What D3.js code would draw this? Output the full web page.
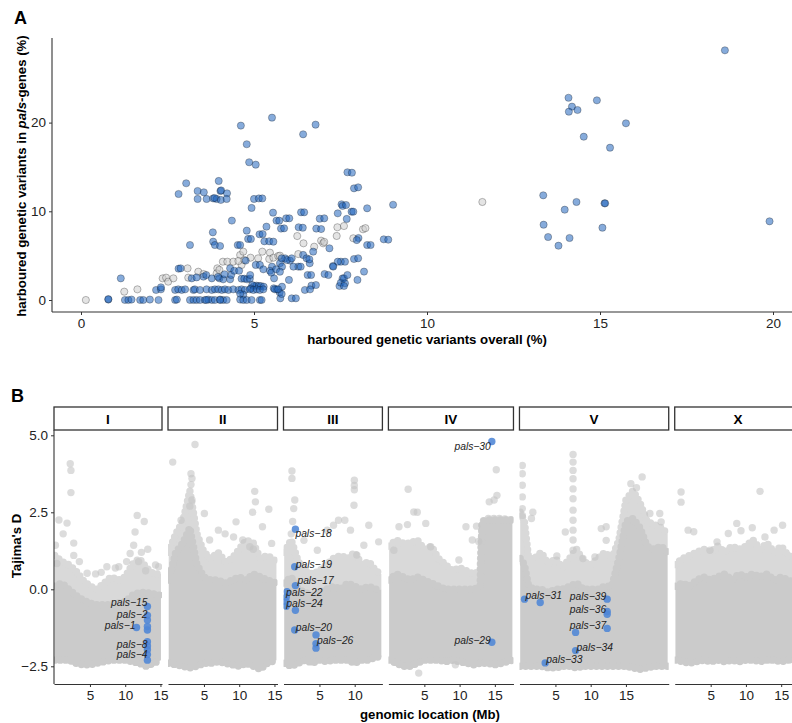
<!DOCTYPE html>
<html>
<head>
<meta charset="utf-8">
<script src="https://cdn.jsdelivr.net/npm/d3@7"></script>
<style>
body { margin: 0; background: #fff; }
text { font-family: "Liberation Sans", Arial, sans-serif; }
</style>
</head>
<body>
<svg id="chart" width="792" height="723"></svg>
<script>
// ---------- panel A data: % variants overall vs % variants in pals genes ----------
const strainsBlue = [
  [4.62,19.66],[5.52,20.56],[6.78,19.77],[6.42,18.68],[4.79,17.56],[4.86,15.53],[5.05,15.26],[7.70,14.4],[7.89,12.59],
  [3.04,13.16],[2.82,11.95],[3.37,12.29],[3.55,12.14],[3.98,13.42],[4.03,12.29],[4.05,12.35],[4.22,12.03],
  [3.37,11.39],[3.63,11.39],[3.82,11.45],[3.92,11.39],[4.04,11.28],[4.21,11.39],[3.86,11.5],
  [5.0,11.39],[5.14,11.45],[5.24,11.45],[4.93,10.38],[4.36,8.95],
  [5.55,9.85],[5.65,8.95],[5.93,9.21],[6.36,9.89],[6.9,9.17],[9.02,10.74],[8.27,10.34],[7.53,10.79],[7.56,10.6],
  [7.42,9.77],[7.82,9.96],[7.68,9.14],[5.78,8.05],[5.36,8.27],[4.79,7.82],[6.8,8.05],[6.29,8.2],[5.16,7.41],
  [4.83,6.88],[3.81,7.63],[5.3,6.62],[5.44,6.62],[5.56,6.58],[8.75,6.84],[8.27,6.2],[8.37,6.2],[8.02,6.99],[7.97,6.76],
  [7.18,5.83],[3.15,6.2],[3.82,6.58],[3.87,6.2],[4.02,6.09],[4.53,6.2],[4.6,6.2],[4.91,6.88],[5.25,7.44],[5.73,8.94],
  [5.87,8.08],[6.02,9.21],[6.45,9.89],[6.41,8.15],[6.94,8.0],[7.03,9.21],[7.66,10.71],[7.87,9.96],[8.01,12.7],[7.83,14.35],
  [5.05,3.95],[5.9,4.7],[6.04,4.44],[6.42,5.08],[6.52,4.7],[6.71,5.45],[6.61,4.14],[6.28,3.76],[5.75,4.14],[5.81,3.76],
  [5.52,3.76],[5.17,3.95],[5.27,3.46],[5.46,3.3],[5.5,3.08],[5.64,3.46],[5.75,3.19],[5.95,4.51],[6.09,4.7],[5.8,4.7],
  [6.14,3.76],[6.35,3.76],[6.6,4.59],[4.76,4.44],[4.31,3.57],[2.82,3.53],[2.88,3.57],
  [7.04,2.93],[7.56,2.44],[7.47,1.58],[7.51,1.95],[7.99,2.26],[8.18,3.2],[7.51,4.32],[7.42,4.32],[7.63,4.32],[7.89,4.62],
  [7.28,3.83],[7.29,3.76],[6.55,2.82],[6.65,2.82],[6.66,1.62],[6.47,1.13],[6.62,1.2],[6.79,1.69],[7.15,2.82],[7.6,2.44],
  [7.63,1.88],[7.6,1.58],[7.7,2.82],[8.01,4.7],
  [5.76,0.19],[6.09,0.19],[6.21,0.19],[5.74,0.86],[5.81,1.5],[5.57,1.32],[5.66,1.2],[5.8,0.68],[5.6,1.2],[5.7,1.2],[6.01,2.26],[5.58,2.44],
  [1.15,2.44],[3.54,2.63],[3.78,2.44],[4.0,2.44],[4.11,2.33],[4.31,2.33],[4.64,2.4],[4.72,2.4],[4.8,2.33],[4.88,2.4],
  [4.89,2.82],[4.34,2.82],[4.43,3.3],[4.57,3.3],[3.2,2.44],[3.34,2.55],[3.62,2.82],[3.96,2.6],[4.15,2.9],
  [5.0,1.58],[5.07,1.62],[5.14,1.58],[5.2,1.58],[5.28,1.5],[4.95,1.69],[4.91,1.3],
  [2.17,1.13],[2.31,1.2],[2.31,1.43],[2.72,1.13],[2.81,1.2],[2.91,1.13],[3.01,1.2],[3.25,1.13],[3.29,1.2],[3.44,1.13],
  [3.63,1.2],[3.78,1.13],[3.87,1.2],[3.97,1.2],[4.07,1.13],[4.16,1.2],[4.26,1.13],[4.4,1.2],[4.55,1.13],[4.64,1.2],
  [4.74,1.13],[4.88,1.2],[4.98,1.13],[5.08,1.2],[5.17,1.13],[5.27,1.2],[4.69,0.6],[4.6,0.7],
  [0.79,0.05],[0.79,0.1],[1.27,0],[1.37,0],[1.46,0.05],[1.71,0],[1.8,0],[1.99,0.05],[2.24,0],[2.72,0],[2.77,0.05],
  [3.15,0],[3.25,0],[3.34,0],[3.44,0],[3.58,0],[3.68,0.05],[3.78,0],[3.87,0],[4.02,0.05],[4.11,0],[4.21,0],[4.6,0.05],
  [4.69,0],[4.79,0],[4.93,0],[5.17,0],[5.22,0],[3.62,0],[4.02,0],
  [18.61,28.15],[14.09,22.8],[14.91,22.51],[14.19,21.8],[14.1,21.23],[14.35,21.42],[15.75,19.92],[14.53,18.41],
  [15.29,17.17],[13.36,11.8],[14.32,11.05],[15.13,10.9],[15.15,10.9],[13.98,10.18],[19.9,8.87],[13.37,8.49],
  [15.07,8.15],[13.5,7.1],[14.12,6.99],[13.8,6.12],[8.88,6.8]
];
const strainsGrey = [
  [0.14,0],[1.25,0.94],[1.63,1.2],[2.36,2.44],[2.46,2.52],[2.52,2.07],[2.67,2.44],[3.08,3.57],[3.1,2.52],[3.39,3.19],
  [3.54,2.93],[3.94,3.57],[3.92,3.0],[4.0,3.4],[4.1,4.32],[4.23,4.32],[4.4,4.32],[4.64,3.95],[4.6,5.07],[4.69,5.45],
  [4.9,4.77],[5.12,4.7],[5.24,5.45],[5.44,4.62],[5.46,5.34],[5.56,4.77],[5.7,4.96],[5.75,5.0],[6.25,7.21],[6.28,5.18],
  [6.43,6.39],[6.94,6.69],[7.0,6.39],[7.03,6.55],[6.74,6.01],[7.41,8.2],[7.6,8.34],[7.39,7.22],[7.87,6.96],[8.15,7.97],
  [8.22,8.1],[11.6,11.05],[4.55,4.4],[4.72,4.5]
];
const aTicksX = [0, 5, 10, 15, 20];
const aTicksY = [0, 10, 20];

// ---------- panel B data: Tajima's D along the chromosomes ----------
const chromNames = ['I', 'II', 'III', 'IV', 'V', 'X'];
const chromLengths = [15.07, 15.28, 13.78, 17.49, 20.92, 17.72];

// cloud envelope per chromosome: [Mb, lower edge, top of dense band, top of sparse band]
const cloudI = [[0,-2.3,0.1,1.1],[1,-2.3,0.2,0.9],[2,-2.3,0.0,0.8],[3,-2.4,-0.2,0.6],[4,-2.45,-0.35,0.3],
  [5,-2.45,-0.45,0.1],[6,-2.4,-0.5,0.0],[7,-2.35,-0.5,0.2],[8,-2.3,-0.5,0.4],[9,-2.3,-0.45,0.3],[10,-2.3,-0.4,0.4],
  [11,-2.35,-0.2,0.8],[12,-2.4,-0.1,1.0],[13,-2.5,-0.1,0.7],[14,-2.4,-0.15,0.5],[15.07,-2.3,-0.2,0.5]];
const cloudII = [[0,-2.4,0.3,1.2],[1,-2.45,1.2,1.8],[2,-2.5,1.5,2.2],[3,-2.55,2.0,3.2],[4,-2.5,0.8,1.8],
  [5,-2.4,0.4,1.2],[6,-2.4,0.3,1.0],[7,-2.35,0.3,1.2],[8,-2.4,0.2,0.9],[9,-2.45,0.3,1.0],[10,-2.5,0.4,1.3],
  [11,-2.4,0.3,1.6],[12,-2.5,0.5,1.5],[13,-2.6,0.4,1.0],[14,-2.4,0.3,1.1],[15.28,-2.3,0.2,0.9]];
const cloudIII = [[0,-2.4,0.2,1.2],[1,-2.5,0.4,1.6],[2,-2.4,0.0,0.9],[3,-2.3,-0.1,0.6],[4,-2.4,-0.2,0.5],
  [5,-2.3,-0.1,0.6],[6,-2.35,0.0,0.8],[7,-2.3,0.1,1.0],[8,-2.3,0.0,1.1],[9,-2.3,0.2,1.0],[10,-2.4,0.1,1.2],
  [11,-2.3,0.0,0.8],[12,-2.3,0.1,0.9],[13,-2.2,0.0,0.6],[13.78,-2.2,0.0,0.5]];
const cloudIV = [[0,-2.3,0.3,1.4],[1,-2.4,0.5,1.6],[2,-2.5,0.4,1.5],[3,-2.5,0.3,1.5],[4,-2.4,0.4,1.6],
  [5,-2.3,0.3,1.3],[6,-2.3,0.2,1.4],[7,-2.3,0.1,1.0],[8,-2.35,0.0,0.8],[9,-2.3,0.0,0.6],[10,-2.35,0.0,0.7],
  [11,-2.4,0.0,0.6],[12,-2.45,0.0,0.5],[12.9,-2.4,0.1,0.6],[13.2,-2.4,2.2,2.2],[14,-2.4,2.25,2.3],
  [15,-2.45,2.25,2.3],[16,-2.4,2.25,2.3],[17.49,-2.3,2.25,2.25]];
const cloudV = [[0,-2.5,1.0,2.5],[0.6,-2.5,0.8,2.2],[1.2,-2.5,0.1,1.0],[2,-2.5,0.0,1.0],[3,-2.5,0.0,1.2],
  [4,-2.55,-0.1,0.8],[5,-2.55,0.0,1.0],[6,-2.5,0.0,0.7],[7,-2.5,0.1,1.0],[8,-2.55,0.2,1.3],[9,-2.5,0.0,0.9],
  [10,-2.5,0.0,0.8],[11,-2.5,0.0,1.0],[12,-2.5,0.1,1.2],[13,-2.5,0.1,1.0],[14,-2.5,1.0,1.6],[15,-2.5,2.2,2.9],
  [16,-2.55,2.3,3.2],[17,-2.6,2.0,2.8],[18,-2.55,1.4,2.2],[19,-2.5,1.3,2.1],[20,-2.5,1.4,2.0],[20.92,-2.5,1.2,1.8]];
const cloudX = [[0,-2.3,0.1,0.8],[1,-2.35,0.2,1.0],[2,-2.4,0.1,1.1],[3,-2.35,0.3,1.2],[4,-2.3,0.4,1.3],
  [5,-2.35,0.3,1.2],[6,-2.3,0.4,1.4],[7,-2.35,0.5,1.2],[8,-2.3,0.3,1.4],[9,-2.35,0.5,1.3],[10,-2.3,0.4,1.4],
  [11,-2.3,0.5,1.6],[12,-2.35,0.4,1.3],[13,-2.3,0.5,1.5],[14,-2.3,0.3,1.2],[15,-2.35,0.4,1.4],[16,-2.3,0.3,1.1],
  [17,-2.3,0.2,1.0],[17.72,-2.3,0.2,1.0]];
const clouds = [cloudI, cloudII, cloudIII, cloudIV, cloudV, cloudX];

// scattered windows above the cloud: [Mb, D]
const outliersI = [[2.2,4.08],[2.3,3.86],[2.3,3.14],[0.6,2.25],[1.75,2.15],[11.7,2.4],[12.7,2.2],[11.4,1.86],
  [11.2,1.43],[10.7,1.16],[9.1,0.73],[7.4,0.73],[8.6,0.69],[14.3,0.79],[14.75,0.73],[2.7,1.5],[2.7,1.1],[0.1,1.43],
  [0.3,0.84],[4.6,0.52],[11.9,0.9],[12.3,1.2],[13.2,1.3],[1.2,1.8],[3.5,0.9],[5.8,0.5],[6.6,0.55],[10.2,0.9],[12.9,0.6]];
const outliersII = [[0.57,4.13],[3.73,4.7],[3.16,3.75],[3.3,3.6],[3.16,3.4],[3.3,2.9],[3.0,2.7],[12.2,3.18],
  [12.3,2.84],[14.2,2.6],[11.9,2.5],[1.75,2.24],[5.06,2.46],[7.05,1.92],[9.55,2.19],[13.3,2.03],[5.8,1.6],
  [9.2,1.7],[14.6,1.49],[11.5,1.38],[12.0,1.3],[8.0,1.8],[10.5,1.6]];
const outliersIII = [[1.1,3.84],[1.1,3.6],[1.5,2.9],[1.35,2.62],[9.95,3.54],[9.95,3.37],[9.95,3.23],[9.9,2.73],
  [7.7,2.24],[8.6,2.24],[7.0,2.08],[12.0,2.08],[6.1,1.92],[9.4,1.92],[11.3,1.43],[13.4,1.54],[2.8,1.59],
  [4.7,1.27],[10.3,1.11],[1.2,2.2],[1.0,1.8]];
const outliersIV = [[2.7,3.25],[15.2,3.88],[15.3,3.05],[14.2,2.84],[14.9,2.9],[3.5,2.51],[4.0,2.5],[1.4,2.03],
  [2.6,2.1],[5.2,2.14],[10.9,2.03],[12.4,2.05],[5.9,1.38],[9.9,0.95],[11.8,1.6],[12.7,1.55],[0.67,1.27],
  [4.2,-2.72],[9.4,-2.45]];
const outliersV = [[0.3,4.02],[0.3,3.75],[0.3,3.38],[0.3,3.0],[0.3,2.62],[0.3,2.4],[1.8,2.5],[1.6,2.3],
  [7.5,4.38],[7.5,4.13],[7.5,3.86],[7.5,3.59],[7.5,3.26],[7.5,2.94],[7.5,2.57],[7.5,2.24],[7.5,1.92],[7.5,1.6],
  [7.5,1.27],[6.4,1.86],[8.9,1.0],[5.2,1.08],[12.2,2.03],[11.5,1.97],[12.2,1.59],[10.6,1.05],[17.3,3.65],
  [15.7,3.43],[18.4,2.46],[19.8,2.46],[20.0,2.19],[16.5,3.3]];
const outliersX = [[0.8,3.16],[0.8,2.83],[12.0,3.18],[8.7,2.14],[9.3,1.9],[10.9,2.0],[1.8,1.92],[2.6,1.87],
  [5.9,1.54],[7.5,1.81],[14.0,1.92],[15.2,2.08],[4.9,1.27],[12.7,1.7]];
const outliers = [outliersI, outliersII, outliersIII, outliersIV, outliersV, outliersX];

// pals genes: [name, chromosome, Mb, D]
const palsGenes = [
  ['pals-15','I',13.15,-0.56],['pals-2','I',13.15,-0.85],['','I',13.15,-1.0],['','I',13.15,-1.21],
  ['','I',13.15,-1.32],['pals-1','I',11.6,-1.24],['','I',13.15,-1.70],['pals-8','I',13.15,-1.84],
  ['','I',13.15,-1.96],['pals-4','I',13.15,-2.12],['','I',13.15,-2.3],
  ['pals-18','III',1.59,1.95],['pals-19','III',1.49,0.73],['pals-17','III',1.59,0.12],['pals-22','III',0.4,-0.08],
  ['','III',0.3,-0.25],['pals-24','III',0.3,-0.4],['','III',0.3,-0.55],['','III',1.59,-0.68],
  ['pals-20','III',1.49,-1.32],['','III',4.51,-1.48],['pals-26','III',4.51,-1.77],['','III',4.51,-1.91],
  ['pals-30','IV',14.57,4.8],['pals-29','IV',14.57,-1.72],
  ['pals-31','V',0.62,-0.32],['','V',2.84,-0.43],['pals-39','V',12.34,-0.32],['pals-36','V',12.34,-0.72],
  ['','V',12.34,-0.81],['pals-37','V',12.34,-1.27],['','V',7.86,-1.40],['pals-34','V',7.86,-1.99],
  ['pals-33','V',3.55,-2.39]
];
const bTicksX = [5, 10, 15];
const bTicksY = [-2.5, 0, 2.5, 5];

// label placement (anchor, dx, dy in px)
const labelPlace = {
  'pals-15': ['end', 0, -3.8], 'pals-2': ['end', 0, -1], 'pals-1': ['end', -1, -2.5],
  'pals-8': ['end', 0, -2], 'pals-4': ['end', 0, 0],
  'pals-18': ['start', 0, 4.5], 'pals-19': ['start', 1, -2.5], 'pals-17': ['start', 2, -4.8],
  'pals-22': ['start', -1, 0.8], 'pals-24': ['start', 0, 2.2], 'pals-20': ['start', 1, -3],
  'pals-26': ['start', 1, -3], 'pals-30': ['end', -1, 4.8], 'pals-29': ['end', -1, -2.3],
  'pals-31': ['start', 1, -3.5], 'pals-39': ['end', -1, -2.6], 'pals-36': ['end', -1, -1.7],
  'pals-37': ['end', -1, -3], 'pals-34': ['start', 1, -2.7], 'pals-33': ['start', 1, -3.3]
};

const svg = d3.select('#chart');
const axisCol = '#333';
const fontStack = '"Liberation Sans", Arial, sans-serif';
const minus = s => s.replace('-', '\u2212');

function styleTicks(g) {
  g.selectAll('.tick line').attr('stroke', axisCol);
  g.selectAll('.tick text').attr('fill', '#222').style('font-size', '13.5px')
    .style('font-family', fontStack);
}

// ================= PANEL A =================
let xA = d3.scaleLinear().domain([0, 20]).range([81, 773]);
let yA = d3.scaleLinear().domain([0, 20]).range([300, 122.6]);

svg.append('text').attr('x', 14).attr('y', 24)
  .style('font-size', '18px').style('font-weight', 'bold').text('A');

let axA = svg.append('g');
axA.append('line').attr('x1', 52).attr('x2', 52).attr('y1', 38).attr('y2', 312)
  .attr('stroke', axisCol).attr('stroke-width', 1.1);
axA.append('line').attr('x1', 52).attr('x2', 792).attr('y1', 312).attr('y2', 312)
  .attr('stroke', axisCol).attr('stroke-width', 1.1);

let xAxisA = axA.append('g').attr('transform', 'translate(0,312)')
  .call(d3.axisBottom(xA).tickValues(aTicksX).tickSize(3).tickPadding(3).tickSizeOuter(0));
let yAxisA = axA.append('g').attr('transform', 'translate(52,0)')
  .call(d3.axisLeft(yA).tickValues(aTicksY).tickSize(3).tickPadding(3).tickSizeOuter(0));
[xAxisA, yAxisA].forEach(g => {
  g.select('.domain').remove();
  styleTicks(g);
});

svg.append('g').selectAll('circle').data(strainsGrey).join('circle')
  .attr('cx', d => xA(d[0])).attr('cy', d => yA(d[1])).attr('r', 3.6)
  .attr('fill', '#cdcdcd').attr('fill-opacity', 0.55)
  .attr('stroke', '#000').attr('stroke-opacity', 0.45).attr('stroke-width', 0.6);

svg.append('g').selectAll('circle').data(strainsBlue).join('circle')
  .attr('cx', d => xA(d[0])).attr('cy', d => yA(d[1])).attr('r', 3.6)
  .attr('fill', '#2366be').attr('fill-opacity', 0.55)
  .attr('stroke', '#000').attr('stroke-opacity', 0.45).attr('stroke-width', 0.6);

svg.append('text').attr('x', 427).attr('y', 344).attr('text-anchor', 'middle')
  .style('font-size', '13.2px').style('font-weight', 'bold')
  .text('harboured genetic variants overall (%)');

let yTitleA = svg.append('text').attr('transform', 'translate(26,176) rotate(-90)')
  .attr('text-anchor', 'middle').style('font-size', '13.2px').style('font-weight', 'bold');
yTitleA.append('tspan').text('harboured genetic variants in ');
yTitleA.append('tspan').style('font-style', 'italic').text('pals');
yTitleA.append('tspan').text('-genes (%)');

// ================= PANEL B =================
svg.append('text').attr('x', 11).attr('y', 402)
  .style('font-size', '18px').style('font-weight', 'bold').text('B');

const pxPerMb = 7.05;
const panelTop = 430, panelBottom = 684;
const cloudCol = '#cbcbcb';
let yB = d3.scaleLinear().domain([0, 2.5]).range([589.3, 512.3]);

let defs = svg.append('defs');
let left = 54;

// dotted outline with round caps gives the bubbly edge of many overlapping points
function bubbleEdge(g, data, x, key) {
  g.append('path').datum(data)
    .attr('d', d3.line().x(d => x(d[0])).y(d => yB(d[key])))
    .attr('fill', 'none').attr('stroke', cloudCol).attr('stroke-width', 7.4)
    .attr('stroke-linecap', 'round').attr('stroke-dasharray', '0 5.5');
}

chromNames.forEach((chrom, i) => {
  let len = chromLengths[i];
  let w = (len + 0.25) * pxPerMb;
  let x = d3.scaleLinear().domain([-0.1, len + 0.15]).range([left, left + w]);

  // strip
  svg.append('rect').attr('x', left).attr('y', 407).attr('width', w).attr('height', 23)
    .attr('fill', '#fff').attr('stroke', '#333').attr('stroke-width', 1.3);
  svg.append('text').attr('x', left + w / 2).attr('y', 423.5).attr('text-anchor', 'middle')
    .style('font-size', '13.5px').style('font-weight', 'bold').text(chrom);

  defs.append('clipPath').attr('id', 'clip' + i).append('rect')
    .attr('x', left).attr('y', panelTop).attr('width', w).attr('height', panelBottom - panelTop);

  let panel = svg.append('g').attr('clip-path', `url(#clip${i})`);

  // sparse upper part of the cloud
  let sparse = panel.append('g').attr('opacity', 0.72);
  sparse.append('path').datum(clouds[i])
    .attr('d', d3.area().x(d => x(d[0])).y0(d => yB(d[2])).y1(d => yB(d[3])))
    .attr('fill', cloudCol);
  bubbleEdge(sparse, clouds[i], x, 3);

  // dense core
  let dense = panel.append('g');
  dense.append('path').datum(clouds[i])
    .attr('d', d3.area().x(d => x(d[0])).y0(d => yB(d[1])).y1(d => yB(d[2])))
    .attr('fill', cloudCol);
  bubbleEdge(dense, clouds[i], x, 2);
  bubbleEdge(dense, clouds[i], x, 1);

  panel.append('g').selectAll('circle').data(outliers[i]).join('circle')
    .attr('cx', d => x(d[0])).attr('cy', d => yB(d[1])).attr('r', 3.7)
    .attr('fill', '#c4c4c4').attr('fill-opacity', 0.6);

  let genes = palsGenes.filter(d => d[1] === chrom);
  panel.append('g').selectAll('circle').data(genes).join('circle')
    .attr('cx', d => x(d[2])).attr('cy', d => yB(d[3])).attr('r', 3.7)
    .attr('fill', '#4f86d6').attr('fill-opacity', 0.88);

  svg.append('g').selectAll('text').data(genes.filter(d => d[0])).join('text')
    .attr('x', d => x(d[2]) + labelPlace[d[0]][1])
    .attr('y', d => yB(d[3]) + labelPlace[d[0]][2])
    .attr('dy', '0.35em')
    .attr('text-anchor', d => labelPlace[d[0]][0])
    .style('font-size', '10.3px').style('font-style', 'italic').attr('fill', '#222')
    .text(d => minus(d[0]));

  // bottom axis of this facet
  let xAxis = svg.append('g').attr('transform', `translate(0,${panelBottom})`)
    .call(d3.axisBottom(x).tickValues(bTicksX.filter(t => t <= len + 0.15))
      .tickSize(3).tickPadding(3).tickSizeOuter(0));
  xAxis.select('.domain').attr('stroke', axisCol).attr('stroke-width', 1.1);
  styleTicks(xAxis);

  left += w + 6;
});

// y axis of panel B
svg.append('line').attr('x1', 54).attr('x2', 54).attr('y1', panelTop).attr('y2', panelBottom)
  .attr('stroke', axisCol).attr('stroke-width', 1.1);
let yAxisB = svg.append('g').attr('transform', 'translate(54,0)')
  .call(d3.axisLeft(yB).tickValues(bTicksY).tickSize(3).tickPadding(3)
    .tickFormat(d => minus(d3.format('.1f')(d))));
yAxisB.select('.domain').remove();
styleTicks(yAxisB);

svg.append('text').attr('x', 430).attr('y', 719).attr('text-anchor', 'middle')
  .style('font-size', '13.2px').style('font-weight', 'bold').text('genomic location (Mb)');
svg.append('text').attr('transform', 'translate(21,546) rotate(-90)')
  .attr('text-anchor', 'middle').style('font-size', '13.2px').style('font-weight', 'bold')
  .text("Tajima's D");
</script>
</body>
</html>
